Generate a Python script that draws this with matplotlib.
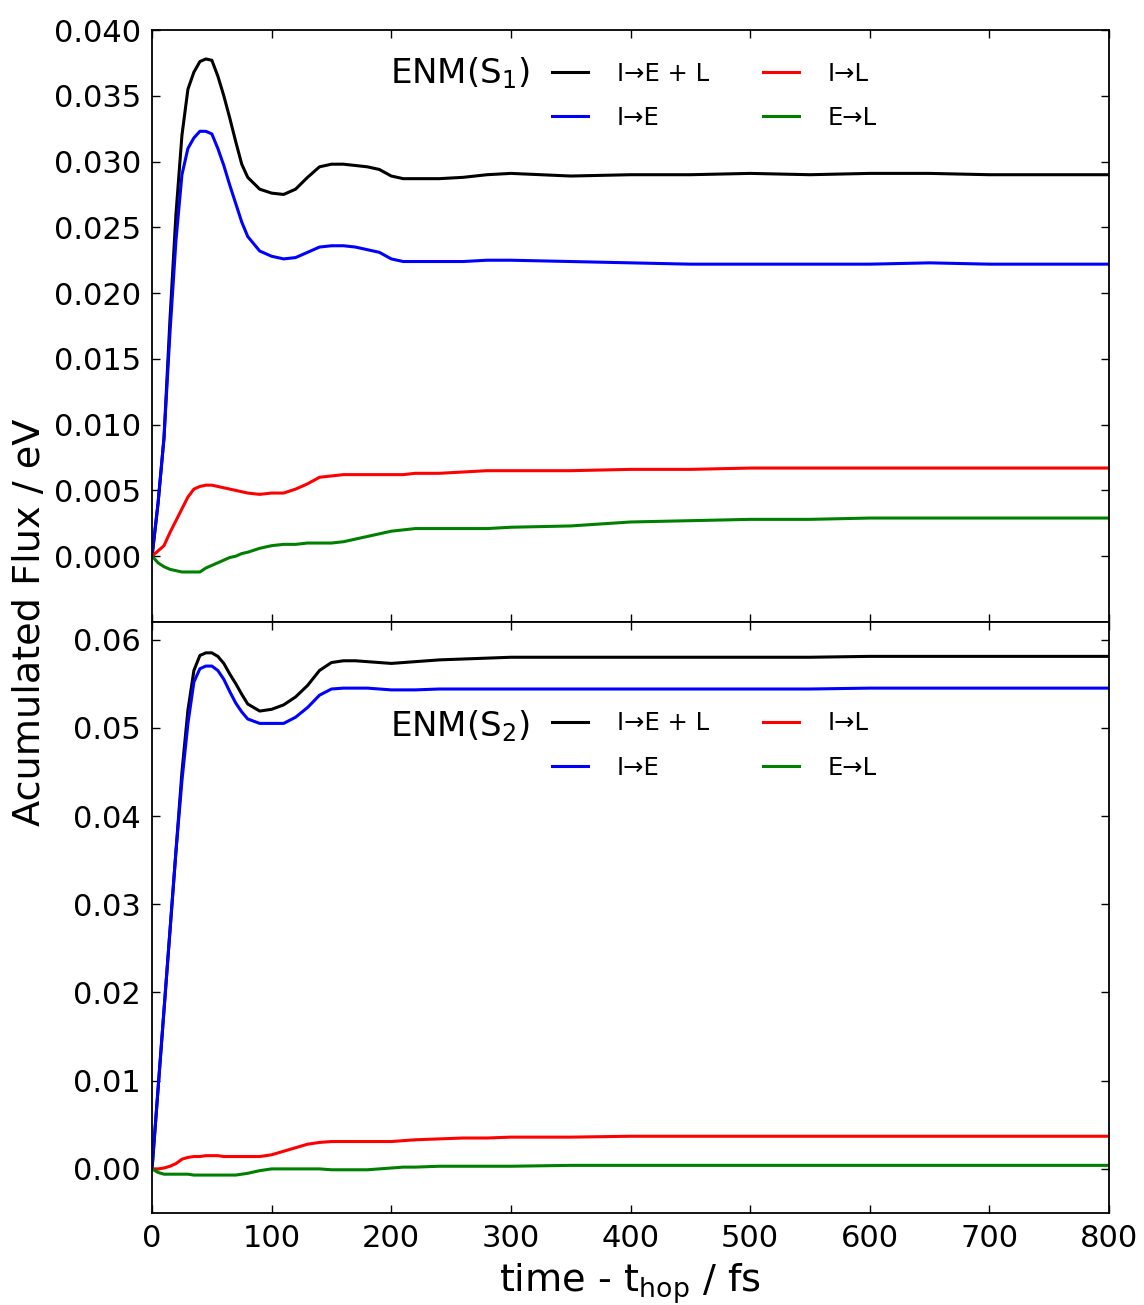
import matplotlib
matplotlib.use("Agg")
import matplotlib.pyplot as plt
from matplotlib.ticker import FormatStrFormatter

plt.rcParams['font.family'] = ['DejaVu Sans']
plt.rcParams['mathtext.default'] = 'regular'

t = [0, 5, 10, 15, 20, 25, 30, 35, 40, 45, 50, 55, 60, 65, 70, 75, 80, 90, 100,
     110, 120, 130, 140, 150, 160, 170, 180, 190, 200, 210, 220, 240, 260, 280,
     300, 350, 400, 450, 500, 550, 600, 650, 700, 750, 800]

# ENM(S1)
s1_IEL = [0, 0.004, 0.009, 0.018, 0.026, 0.032, 0.0355, 0.0368, 0.0376, 0.0378, 0.0377,
          0.0365, 0.035, 0.0333, 0.0315, 0.0298, 0.0288, 0.0279, 0.0276, 0.0275, 0.0279,
          0.0288, 0.0296, 0.0298, 0.0298, 0.0297, 0.0296, 0.0294, 0.0289, 0.0287, 0.0287,
          0.0287, 0.0288, 0.0290, 0.0291, 0.0289, 0.0290, 0.0290, 0.0291, 0.0290, 0.0291,
          0.0291, 0.0290, 0.0290, 0.0290]
s1_IE = [0, 0.004, 0.009, 0.017, 0.024, 0.029, 0.031, 0.0318, 0.0323, 0.0323, 0.0321,
         0.031, 0.0297, 0.0282, 0.0268, 0.0254, 0.0243, 0.0232, 0.0228, 0.0226, 0.0227,
         0.0231, 0.0235, 0.0236, 0.0236, 0.0235, 0.0233, 0.0231, 0.0226, 0.0224, 0.0224,
         0.0224, 0.0224, 0.0225, 0.0225, 0.0224, 0.0223, 0.0222, 0.0222, 0.0222, 0.0222,
         0.0223, 0.0222, 0.0222, 0.0222]
s1_IL = [0, 0.0004, 0.0008, 0.0018, 0.0027, 0.0036, 0.0045, 0.0051, 0.0053, 0.0054, 0.0054,
         0.0053, 0.0052, 0.0051, 0.0050, 0.0049, 0.0048, 0.0047, 0.0048, 0.0048, 0.0051,
         0.0055, 0.0060, 0.0061, 0.0062, 0.0062, 0.0062, 0.0062, 0.0062, 0.0062, 0.0063,
         0.0063, 0.0064, 0.0065, 0.0065, 0.0065, 0.0066, 0.0066, 0.0067, 0.0067, 0.0067,
         0.0067, 0.0067, 0.0067, 0.0067]
s1_EL = [0, -0.0005, -0.0008, -0.0010, -0.0011, -0.0012, -0.0012, -0.0012, -0.0012, -0.0009,
         -0.0007, -0.0005, -0.0003, -0.0001, 0.0, 0.0002, 0.0003, 0.0006, 0.0008, 0.0009,
         0.0009, 0.0010, 0.0010, 0.0010, 0.0011, 0.0013, 0.0015, 0.0017, 0.0019, 0.0020,
         0.0021, 0.0021, 0.0021, 0.0021, 0.0022, 0.0023, 0.0026, 0.0027, 0.0028, 0.0028,
         0.0029, 0.0029, 0.0029, 0.0029, 0.0029]

# ENM(S2)
s2_IEL = [0, 0.009, 0.018, 0.027, 0.036, 0.045, 0.052, 0.0565, 0.0582, 0.0585, 0.0585,
          0.0581, 0.0573, 0.0561, 0.0550, 0.0538, 0.0527, 0.0519, 0.0521, 0.0526, 0.0535,
          0.0548, 0.0565, 0.0574, 0.0576, 0.0576, 0.0575, 0.0574, 0.0573, 0.0574, 0.0575,
          0.0577, 0.0578, 0.0579, 0.0580, 0.0580, 0.0580, 0.0580, 0.0580, 0.0580, 0.0581,
          0.0581, 0.0581, 0.0581, 0.0581]
s2_IE = [0, 0.009, 0.018, 0.027, 0.036, 0.044, 0.0505, 0.0552, 0.0567, 0.0570, 0.0570,
         0.0565, 0.0555, 0.0541, 0.0528, 0.0518, 0.0510, 0.0505, 0.0505, 0.0505, 0.0512,
         0.0523, 0.0537, 0.0544, 0.0545, 0.0545, 0.0545, 0.0544, 0.0543, 0.0543, 0.0543,
         0.0544, 0.0544, 0.0544, 0.0544, 0.0544, 0.0544, 0.0544, 0.0544, 0.0544, 0.0545,
         0.0545, 0.0545, 0.0545, 0.0545]
s2_IL = [0, 0.0, 0.0001, 0.0003, 0.0006, 0.0011, 0.0013, 0.0014, 0.0014, 0.0015, 0.0015,
         0.0015, 0.0014, 0.0014, 0.0014, 0.0014, 0.0014, 0.0014, 0.0016, 0.0020, 0.0024,
         0.0028, 0.0030, 0.0031, 0.0031, 0.0031, 0.0031, 0.0031, 0.0031, 0.0032, 0.0033,
         0.0034, 0.0035, 0.0035, 0.0036, 0.0036, 0.0037, 0.0037, 0.0037, 0.0037, 0.0037,
         0.0037, 0.0037, 0.0037, 0.0037]
s2_EL = [0, -0.0004, -0.0006, -0.0006, -0.0006, -0.0006, -0.0006, -0.0007, -0.0007, -0.0007,
         -0.0007, -0.0007, -0.0007, -0.0007, -0.0007, -0.0006, -0.0005, -0.0002, 0.0, 0.0,
         0.0, 0.0, 0.0, -0.0001, -0.0001, -0.0001, -0.0001, 0.0, 0.0001, 0.0002, 0.0002,
         0.0003, 0.0003, 0.0003, 0.0003, 0.0004, 0.0004, 0.0004, 0.0004, 0.0004, 0.0004,
         0.0004, 0.0004, 0.0004, 0.0004]

labels = ['I→E + L', 'I→E', 'I→L', 'E→L']
colors = ['k', 'b', 'r', 'g']
top_ticks = [0.000, 0.005, 0.010, 0.015, 0.020, 0.025, 0.030, 0.035, 0.040]
bot_ticks = [0.00, 0.01, 0.02, 0.03, 0.04, 0.05, 0.06]
x_ticks = [0, 100, 200, 300, 400, 500, 600, 700, 800]

fig = plt.figure(figsize=(11.44, 13.05), dpi=100)
ax1 = fig.add_axes([0.1329, 0.5234, 0.8365, 0.4536])
ax2 = fig.add_axes([0.1329, 0.0705, 0.8365, 0.4529], sharex=ax1)

panels = [
    (ax1, [s1_IEL, s1_IE, s1_IL, s1_EL], r'ENM(S$_1$)', (-0.005, 0.040), top_ticks, '%.3f', 0.927, 0.889),
    (ax2, [s2_IEL, s2_IE, s2_IL, s2_EL], r'ENM(S$_2$)', (-0.005, 0.062), bot_ticks, '%.2f', 0.824, 0.791),
]

for ax, series, title, ylim, yt, fmt, ty, ly in panels:
    for ys, c, lab in zip(series, colors, labels):
        ax.plot(t, ys, color=c, lw=2.2, label=lab)
    ax.set_xlim(0, 800)
    ax.set_ylim(*ylim)
    ax.set_yticks(yt)
    ax.set_xticks(x_ticks)
    ax.yaxis.set_major_formatter(FormatStrFormatter(fmt))
    ax.tick_params(direction='in', top=True, right=True, length=6, width=1,
                   labelsize=22, pad=8)
    for sp in ax.spines.values():
        sp.set_linewidth(1.3)
    ax.text(0.2487, ty, title, transform=ax.transAxes, fontsize=24.5,
            ha='left', va='center')
    ax.legend(ncol=2, frameon=False, fontsize=17.5, loc='center left',
              bbox_to_anchor=(0.418, ly), borderpad=0, borderaxespad=0,
              handlelength=1.48, handletextpad=1.19, columnspacing=2.22,
              labelspacing=0.83)

plt.setp(ax1.get_xticklabels(), visible=False)
ax2.set_xlabel(r'time - t$_{hop}$ / fs', fontsize=27.5, labelpad=6)
fig.text(0.026, 1 - 622 / 1305, 'Acumulated Flux / eV', rotation=90,
         fontsize=27.5, ha='center', va='center')

fig.savefig('out.png', dpi=100)
